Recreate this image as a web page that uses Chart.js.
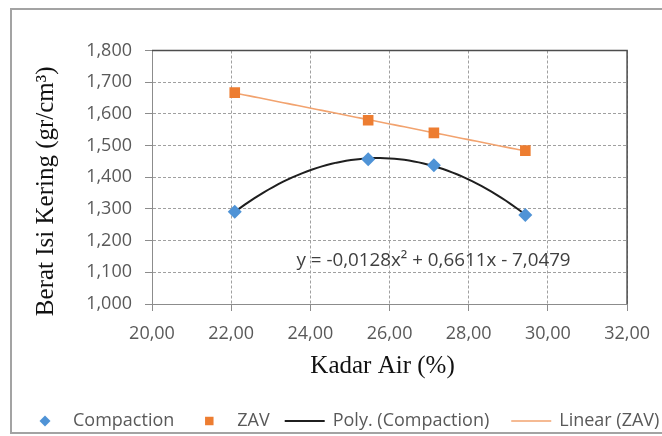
<!DOCTYPE html>
<html>
<head>
<meta charset="utf-8">
<script src="https://cdn.jsdelivr.net/npm/chart.js@4.4.0/dist/chart.umd.min.js"></script>
<style>
  html, body { margin: 0; padding: 0; background: #fff; }
</style>
</head>
<body>
<canvas id="grafik" width="662" height="436"></canvas>
<script>
// kadar air (%) tiap benda uji
const kadarAir = [22.09, 25.46, 27.12, 29.43];
// berat isi kering hasil pemadatan (gr/cm3)
const beratCompaction = [1.291, 1.457, 1.438, 1.281];
// berat isi kering pada kondisi zero air void
const beratZAV = [1.667, 1.580, 1.540, 1.484];

const xTicks = [20, 22, 24, 26, 28, 30, 32];
const yTicks = [1.0, 1.1, 1.2, 1.3, 1.4, 1.5, 1.6, 1.7, 1.8];
const namaSeri = ['Compaction', 'ZAV', 'Poly. (Compaction)', 'Linear (ZAV)'];
const judulX = 'Kadar Air (%)';
const judulY = 'Berat Isi Kering (gr/cm\u00B3)';
const teksPersamaan = 'y = -0,0128x\u00B2 + 0,6611x - 7,0479';

const fontSans = 'Open Sans';
const fontSerif = 'Liberation Serif';

// regresi kuadrat terkecil, hasil [c0, c1, c2...] untuk c0 + c1 x + c2 x^2
function polyfit(xs, ys, deg) {
    const n = deg + 1;
    const A = [];
    for (let i = 0; i < n; i++) {
        const row = [];
        for (let j = 0; j < n; j++) {
            row.push(xs.reduce((s, x) => s + Math.pow(x, i + j), 0));
        }
        row.push(xs.reduce((s, x, k) => s + Math.pow(x, i) * ys[k], 0));
        A.push(row);
    }
    for (let c = 0; c < n; c++) {
        for (let r = c + 1; r < n; r++) {
            const f = A[r][c] / A[c][c];
            for (let k = c; k <= n; k++) A[r][k] -= f * A[c][k];
        }
    }
    const koef = new Array(n).fill(0);
    for (let r = n - 1; r >= 0; r--) {
        let s = A[r][n];
        for (let k = r + 1; k < n; k++) s -= A[r][k] * koef[k];
        koef[r] = s / A[r][r];
    }
    return koef;
}

// titik-titik garis tren di antara data pertama dan terakhir
function garisTren(xs, ys, deg) {
    const c = polyfit(xs, ys, deg);
    const x0 = Math.min(...xs), x1 = Math.max(...xs);
    const hasil = [];
    const langkah = 60;
    for (let i = 0; i <= langkah; i++) {
        const x = x0 + (x1 - x0) * i / langkah;
        hasil.push({ x: x, y: c.reduce((s, ci, p) => s + ci * Math.pow(x, p), 0) });
    }
    return hasil;
}

const titik = (xs, ys) => xs.map((x, i) => ({ x: x, y: ys[i] }));

// bingkai luar, bingkai area plot, judul sumbu dan teks persamaan
const dekorasi = {
    id: 'dekorasi',
    beforeDraw(chart) {
        const ctx = chart.ctx;
        ctx.save();
        ctx.strokeStyle = '#a3a3a3';
        ctx.lineWidth = 2;
        ctx.strokeRect(11, 9, 700, 424);
        ctx.restore();
    },
    beforeDatasetsDraw(chart) {
        const { ctx, chartArea: a } = chart;
        ctx.save();
        ctx.strokeStyle = '#4d4d4d';
        ctx.lineWidth = 1.5;
        ctx.beginPath();
        ctx.moveTo(a.left, a.top);
        ctx.lineTo(a.right, a.top);
        ctx.lineTo(a.right, a.bottom);
        ctx.stroke();

        // judul sumbu
        ctx.font = '25px "' + fontSerif + '"';
        ctx.fillStyle = '#111';
        ctx.textAlign = 'center';
        ctx.textBaseline = 'middle';
        ctx.fillText(judulX, (a.left + a.right) / 2 - 7, 366.6);
        ctx.translate(46.6, (a.top + a.bottom) / 2 + 14);
        ctx.rotate(-Math.PI / 2);
        ctx.fillText(judulY, 0, 0);
        ctx.restore();
    },
    afterDatasetsDraw(chart) {
        const { ctx, scales } = chart;
        ctx.save();
        ctx.font = '18.8px "' + fontSans + '"';
        ctx.fillStyle = '#404040';
        ctx.textBaseline = 'middle';
        ctx.fillText(teksPersamaan, scales.x.getPixelForValue(23.65), scales.y.getPixelForValue(1.137));
        ctx.restore();
    }
};

// legenda di bawah grafik
const legendaBawah = {
    id: 'legendaBawah',
    afterDraw(chart) {
        const ctx = chart.ctx;
        const y = 421;
        let x = 25;
        ctx.save();
        ctx.font = '18px "' + fontSans + '"';
        ctx.textBaseline = 'middle';
        chart.data.datasets.forEach((ds, i) => {
            if (ds.showLine) {
                ctx.strokeStyle = ds.borderColor;
                ctx.lineWidth = ds.borderWidth;
                ctx.beginPath();
                ctx.moveTo(x, y);
                ctx.lineTo(x + 40, y);
                ctx.stroke();
            } else {
                ctx.fillStyle = ds.backgroundColor;
                ctx.strokeStyle = ds.backgroundColor;
                Chart.helpers.drawPoint(ctx, {
                    pointStyle: ds.pointStyle,
                    radius: ds.legendRadius,
                    rotation: 0,
                    borderWidth: 0
                }, x + 20, y);
            }
            x += 48;
            ctx.fillStyle = '#595959';
            ctx.fillText(ds.label, x, y);
            x += ctx.measureText(ds.label).width + (i === 2 ? 22 : 15);
        });
        ctx.restore();
    }
};

const ctx = document.getElementById('grafik').getContext('2d');
new Chart(ctx, {
    type: 'scatter',
    data: {
        datasets: [
            {
                label: namaSeri[0],
                data: titik(kadarAir, beratCompaction),
                pointStyle: 'rectRot',
                pointRadius: 7,
                legendRadius: 5.5,
                backgroundColor: '#4f93d6',
                borderWidth: 0,
                showLine: false
            },
            {
                label: namaSeri[1],
                data: titik(kadarAir, beratZAV),
                pointStyle: 'rect',
                pointRadius: 7.5,
                legendRadius: 6,
                backgroundColor: '#ed7d31',
                borderWidth: 0,
                showLine: false
            },
            {
                label: namaSeri[2],
                data: garisTren(kadarAir, beratCompaction, 2),
                showLine: true,
                pointRadius: 0,
                borderColor: '#1f1f1f',
                borderWidth: 2,
                backgroundColor: '#1f1f1f'
            },
            {
                label: namaSeri[3],
                data: garisTren(kadarAir, beratZAV, 1),
                showLine: true,
                pointRadius: 0,
                borderColor: '#f2a36f',
                borderWidth: 1.6,
                backgroundColor: '#f2a36f'
            }
        ]
    },
    options: {
        responsive: false,
        animation: false,
        events: [],
        layout: { padding: { left: 10, right: 31, top: 50.5, bottom: 40 } },
        plugins: {
            legend: { display: false },
            tooltip: { enabled: false }
        },
        scales: {
            x: {
                type: 'linear',
                min: 20,
                max: 32,
                afterBuildTicks: (s) => { s.ticks = xTicks.map(v => ({ value: v })); },
                afterFit: (s) => { s.height = 92; },
                ticks: {
                    callback: (v) => v.toFixed(2).replace('.', ','),
                    font: { family: fontSans, size: 18 },
                    color: '#595959',
                    padding: 12,
                    maxRotation: 0
                },
                grid: { color: '#a0a0a0', tickColor: '#8c8c8c', tickLength: 7, lineWidth: 1 },
                border: { dash: [3, 2], color: '#8c8c8c', width: 1 }
            },
            y: {
                type: 'linear',
                min: 1.0,
                max: 1.8,
                afterBuildTicks: (s) => { s.ticks = yTicks.map(v => ({ value: v })); },
                afterFit: (s) => { s.width = 142; },
                ticks: {
                    callback: (v) => v.toFixed(3).replace('.', ','),
                    font: { family: fontSans, size: 18 },
                    color: '#595959',
                    padding: 13
                },
                grid: { color: '#a0a0a0', tickColor: '#8c8c8c', tickLength: 7, lineWidth: 1 },
                border: { dash: [3, 2], color: '#8c8c8c', width: 1 }
            }
        }
    },
    plugins: [dekorasi, legendaBawah]
});
</script>
</body>
</html>
